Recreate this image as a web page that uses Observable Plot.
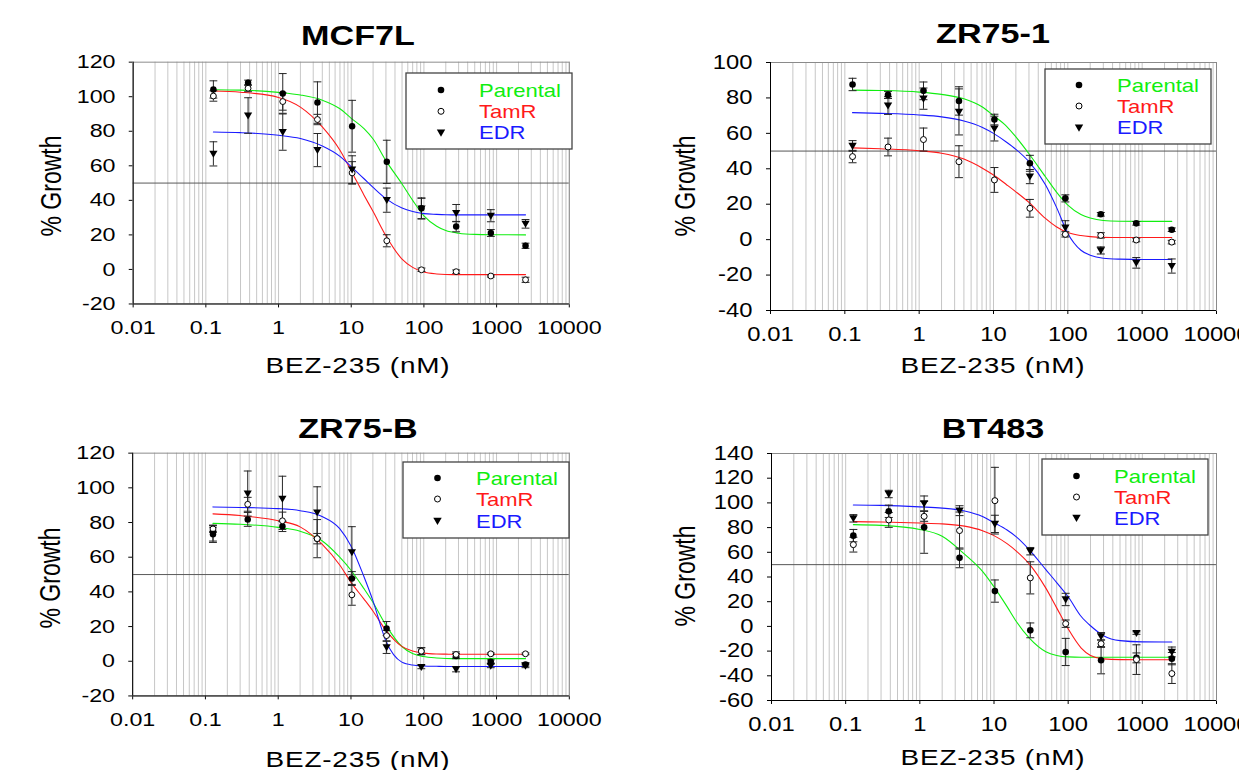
<!DOCTYPE html>
<html><head><meta charset="utf-8">
<script src="https://cdn.jsdelivr.net/npm/d3@7"></script>
<script src="https://cdn.jsdelivr.net/npm/@observablehq/plot@0.6"></script>
<style>
body{margin:0;background:#fff;}
#root{position:relative;width:1239px;height:770px;overflow:hidden;font-family:"Liberation Sans",Arial,sans-serif;}
.panel{position:absolute;overflow:hidden;}
#overlay{position:absolute;left:0;top:0;}
</style></head><body><div id="root"></div>
<script>
// ---------- data ----------
const concentrations = [0.127, 0.381, 1.143, 3.43, 10.29, 30.86, 92.59, 277.8, 833.3, 2500];
const curveConc = [0.127, 0.3, 1, 2, 4, 7, 10, 15, 20, 30, 50, 70, 100, 150, 200, 300, 500, 1000, 2500];
const xTickValues = [0.01, 0.1, 1, 10, 100, 1000, 10000];
const seriesNames = ["Parental", "TamR", "EDR"];
const seriesColors = ["#10ee10", "#ff1a1a", "#1a1aff"];

// MCF7L
const mcf7lParental    = [104.2, 108.1, 101.9, 96.6, 82.9, 62.3, 35.4, 24.8, 21.1, 13.7];
const mcf7lParentalErr = [5, 1.5, 11.5, 12, 15, 12.5, 6, 3, 2, 1.5];
const mcf7lTamR        = [100.4, 104.9, 97.2, 86.8, 55.9, 16.6, -0.2, -1.3, -3.8, -6];
const mcf7lTamRErr     = [3, 2, 5, 3, 6.5, 3.5, 1, 1, 0.6, 1.5];
const mcf7lEDR         = [66.9, 89.1, 79.5, 69.1, 57.8, 40.1, 35.2, 32.6, 31.1, 26.4];
const mcf7lEDRErr      = [7, 10.3, 10.5, 9.6, 8, 7, 6, 5, 3.5, 2.5];
const mcf7lFitParental = [104, 103.8, 102.5, 101, 98, 93, 87.5, 81.5, 75.5, 63, 49.5, 40, 31, 25, 22.5, 21, 20.3, 20.1, 20];
const mcf7lFitTamR     = [103.3, 102.6, 99.6, 94, 82.5, 69, 57, 43, 33.5, 19.5, 6, 1.2, -1.5, -2.6, -2.9, -3, -3, -3, -3];
const mcf7lFitEDR      = [79.6, 79.2, 77.7, 75.8, 71.5, 65.5, 59.5, 52.5, 47.5, 41, 35.5, 33.5, 32.3, 31.9, 31.7, 31.6, 31.6, 31.6, 31.6];
const mcf7lYTicks      = [-20, 0, 20, 40, 60, 80, 100, 120];

// ZR75-1
const zr751Parental    = [87.6, 81.7, 84, 78.3, 67.8, 43.1, 23.3, 14.3, 9.2, 5.6];
const zr751ParentalErr = [3.5, 2, 5, 8, 3, 4.5, 2, 1, 1, 1];
const zr751TamR        = [46.9, 52.3, 56.5, 44, 33.7, 17.7, 3, 2.4, -0.2, -1.4];
const zr751TamRErr     = [3.5, 5, 6.5, 9, 7, 5, 1.5, 1.5, 1, 1];
const zr751EDR         = [52.9, 75.7, 79.6, 72.1, 62.7, 35.6, 6.7, -6.1, -13.1, -14.9];
const zr751EDRErr      = [3, 5, 6, 13, 7, 4, 4, 2, 3, 4];
const zr751FitParental = [84.4, 84.2, 83.3, 82, 79.5, 75, 70, 64, 58, 48.5, 35.5, 27, 19.5, 14.2, 12.2, 10.8, 10.4, 10.3, 10.3];
const zr751FitTamR     = [51.8, 51.3, 50.2, 48.8, 45.5, 40.5, 36.5, 31, 27, 21, 12, 7.3, 4, 2.3, 1.7, 1.3, 1.2, 1.2, 1.2];
const zr751FitEDR      = [71.7, 71.3, 70.4, 69.3, 67, 63.5, 60, 55, 51, 44, 31, 18.5, 3.5, -6, -8.8, -10.5, -11, -11.2, -11.2];
const zr751YTicks      = [-40, -20, 0, 20, 40, 60, 80, 100];

// ZR75-B
const zr75bParental    = [73.3, 81.8, 77.8, 70.7, 47.7, 18.9, 5.8, 3, -0.2, -1.8];
const zr75bParentalErr = [4, 4, 3, 3, 4, 4, 2, 1.5, 1, 1];
const zr75bTamR        = [76.3, 90.5, 81, 70.7, 38.3, 14.8, 5.8, 3.9, 4.3, 4.3];
const zr75bTamRErr     = [2, 4, 5, 11, 6, 3, 2, 1.5, 0.5, 0.5];
const zr75bEDR         = [73.5, 96.7, 93.7, 85.8, 62.8, 8, -3.3, -4.6, -2.7, -2.7];
const zr75bEDRErr      = [5, 13, 13, 14.8, 14.8, 3.5, 1, 1.5, 1, 1];
const zr75bFitParental = [79.5, 79, 77.2, 75, 69.5, 60, 52.5, 42, 34, 21, 8.5, 4.5, 2.7, 1.9, 1.6, 1.5, 1.5, 1.5, 1.5];
const zr75bFitTamR     = [85, 84, 81, 77.5, 67.5, 55.5, 45.5, 36, 29, 18, 8.6, 5.9, 4.7, 4.2, 4.1, 4, 4, 4, 4];
const zr75bFitEDR      = [89, 88.7, 88, 86.8, 83.5, 76.5, 66.5, 49, 35, 12, -0.5, -2.2, -2.7, -2.9, -3, -3, -3, -3, -3];
const zr75bYTicks      = [-20, 0, 20, 40, 60, 80, 100, 120];

// BT483
const bt483Parental    = [73.5, 93.2, 80.2, 55.5, 28.6, -3.2, -20.7, -27.4, -25.5, -26.1];
const bt483ParentalErr = [5, 5, 21, 8, 9, 6, 11, 11, 4, 5];
const bt483TamR        = [66.2, 86.2, 89.1, 77.6, 101.8, 39.3, 2.2, -14, -26.9, -38.2];
const bt483TamRErr     = [6, 6, 4, 15, 27, 13, 3, 3, 12, 8];
const bt483EDR         = [87.5, 107.2, 99.6, 93.7, 83, 60.9, 21.8, -8, -5.4, -20.7];
const bt483EDRErr      = [3, 3, 6, 4, 7, 3, 5, 3, 1, 4];
const bt483FitParental = [82.4, 81.8, 78.5, 73, 58.5, 44.5, 32, 16, 4, -9.5, -20.5, -23.5, -24.7, -25, -25, -25, -25, -25, -25];
const bt483FitTamR     = [84.8, 84.5, 83.7, 83, 81.2, 77.5, 73.5, 67, 61, 50.5, 31, 15, -2, -17.5, -23.5, -26.3, -26.9, -27, -27];
const bt483FitEDR      = [98.3, 98, 96.8, 95.8, 93.5, 89, 84, 78, 72.5, 62, 46, 35.5, 24, 8, 0.5, -7.5, -11.5, -12.5, -12.6];
const bt483YTicks      = [-60, -40, -20, 0, 20, 40, 60, 80, 100, 120, 140];

const panelTitles = ["MCF7L", "ZR75-1", "ZR75-B", "BT483"];
const xAxisTitle = "BEZ-235 (nM)";
const yAxisTitle = "% Growth";

const panelData = [
  {values: [mcf7lParental, mcf7lTamR, mcf7lEDR], errs: [mcf7lParentalErr, mcf7lTamRErr, mcf7lEDRErr], fits: [mcf7lFitParental, mcf7lFitTamR, mcf7lFitEDR], yTicks: mcf7lYTicks},
  {values: [zr751Parental, zr751TamR, zr751EDR], errs: [zr751ParentalErr, zr751TamRErr, zr751EDRErr], fits: [zr751FitParental, zr751FitTamR, zr751FitEDR], yTicks: zr751YTicks},
  {values: [zr75bParental, zr75bTamR, zr75bEDR], errs: [zr75bParentalErr, zr75bTamRErr, zr75bEDRErr], fits: [zr75bFitParental, zr75bFitTamR, zr75bFitEDR], yTicks: zr75bYTicks},
  {values: [bt483Parental, bt483TamR, bt483EDR], errs: [bt483ParentalErr, bt483TamRErr, bt483EDRErr], fits: [bt483FitParental, bt483FitTamR, bt483FitEDR], yTicks: bt483YTicks}
];

// ---------- layout ----------
const layout = [
  {left: 0,   top: 0,   clipW: 607, w: 620, h: 390, ml: 135.5, mr: 39, mt: 63, mb: 80,
   title: [358, 45], xt: [358, 373], yt: [61, 186], leg: {x0: 406, y0: 73, x1: 572, y1: 149, mx: 441, tx: 479, rows: [90, 111.3, 132.7]}},
  {left: 620, top: 0,   clipW: 619, w: 619, h: 390, ml: 150, mr: 23, mt: 62, mb: 80,
   title: [993, 43], xt: [993, 373], yt: [695, 186], leg: {x0: 1045, y0: 69, x1: 1211, y1: 144, mx: 1079, tx: 1117, rows: [85, 106, 127.7]}},
  {left: 0,   top: 390, clipW: 607, w: 620, h: 380, ml: 135, mr: 39, mt: 64, mb: 68,
   title: [358, 437.5], xt: [358, 767], yt: [60, 578], leg: {x0: 403, y0: 462, x1: 569, y1: 538, mx: 437.5, tx: 476, rows: [478, 499, 521]}},
  {left: 620, top: 390, clipW: 619, w: 619, h: 380, ml: 151, mr: 23, mt: 63, mb: 70,
   title: [993, 437.5], xt: [993, 765], yt: [695, 576], leg: {x0: 1042, y0: 459, x1: 1208, y1: 535, mx: 1076.5, tx: 1114, rows: [476, 497, 518]}}
];

// ---------- symbols ----------
const triDown = {draw(ctx, size) { const r = Math.sqrt(size / Math.PI); ctx.moveTo(-r, -0.75 * r); ctx.lineTo(r, -0.75 * r); ctx.lineTo(0, 0.95 * r); ctx.closePath(); }};
const capSymbol = {draw(ctx, size) { const r = Math.sqrt(size / Math.PI); ctx.moveTo(-r, 0); ctx.lineTo(r, 0); }};

const gridTicks = d3.range(-2, 4).flatMap(k => d3.range(1, 10).map(m => +(m * Math.pow(10, k)).toPrecision(3))).concat([10000]);

function scaleTexts(svg, s) {
  svg.querySelectorAll("text").forEach(t => {
    const tr = t.getAttribute("transform");
    const xa = parseFloat(t.getAttribute("x"));
    if (xa && !isNaN(xa)) {
      t.setAttribute("transform", (tr ? tr + " " : "") + `translate(${xa},0) scale(${s},1) translate(${-xa},0)`);
    } else {
      t.setAttribute("transform", (tr ? tr + " " : "") + `scale(${s},1)`);
    }
  });
}

const root = document.getElementById("root");

panelData.forEach((d, pi) => {
  const L = layout[pi];
  const pts = [];
  d.values.forEach((vals, si) => vals.forEach((y, i) => pts.push({x: concentrations[i], y, lo: y - d.errs[si][i], hi: y + d.errs[si][i], name: seriesNames[si]})));
  const caps = pts.flatMap(p => [{x: p.x, y: p.lo}, {x: p.x, y: p.hi}]);
  const fits = [];
  d.fits.forEach((vals, si) => vals.forEach((y, i) => fits.push({x: curveConc[i], y, name: seriesNames[si]})));
  const ymin = d.yTicks[0], ymax = d.yTicks[d.yTicks.length - 1];

  const svg = Plot.plot({
    width: L.w, height: L.h,
    marginLeft: L.ml, marginRight: L.mr, marginTop: L.mt, marginBottom: L.mb,
    style: {fontFamily: '"Liberation Sans", Arial, sans-serif', fontSize: "19.5px", background: "transparent", color: "#000", overflow: "visible"},
    x: {type: "log", domain: [0.01, 10000], ticks: xTickValues, tickFormat: v => String(v), tickSize: 4, tickPadding: 13, label: null},
    y: {domain: [ymin, ymax], ticks: d.yTicks, tickFormat: v => String(v), tickSize: 4, tickPadding: 14, label: null},
    color: {domain: seriesNames, range: seriesColors},
    marks: [
      Plot.ruleX(gridTicks, {stroke: "#c6c6c6", strokeWidth: 1}),
      Plot.ruleY([50], {stroke: "#555", strokeWidth: 1}),
      Plot.frame({stroke: "#8a8a8a"}),
      Plot.ruleX([0.01], {stroke: "#000"}),
      Plot.ruleY([ymin], {stroke: "#000"}),
      Plot.line(fits, {x: "x", y: "y", z: "name", stroke: "name", curve: "monotone-x", strokeWidth: 1.1}),
      Plot.ruleX(pts, {x: "x", y1: "lo", y2: "hi", stroke: "#222", strokeWidth: 1}),
      Plot.dot(caps, {x: "x", y: "y", symbol: capSymbol, r: 4, stroke: "#222", fill: "none", strokeWidth: 1}),
      Plot.dot(pts.filter(p => p.name === "Parental"), {x: "x", y: "y", r: 3.3, fill: "#000", stroke: "none"}),
      Plot.dot(pts.filter(p => p.name === "TamR"), {x: "x", y: "y", r: 3, fill: "#fff", stroke: "#000", strokeWidth: 1}),
      Plot.dot(pts.filter(p => p.name === "EDR"), {x: "x", y: "y", r: 4.2, symbol: triDown, fill: "#000", stroke: "none"})
    ]
  });
  scaleTexts(svg, 1.22);
  const div = document.createElement("div");
  div.className = "panel";
  div.style.left = L.left + "px";
  div.style.top = L.top + "px";
  div.style.width = L.clipW + "px";
  div.style.height = L.h + "px";
  div.appendChild(svg);
  root.appendChild(div);
});

// ---------- overlay: titles, axis titles, legends ----------
const ov = d3.select(root).append("svg").attr("id", "overlay").attr("width", 1239).attr("height", 770)
  .style("font-family", '"Liberation Sans", Arial, sans-serif');

layout.forEach((L, pi) => {
  ov.append("text").text(panelTitles[pi])
    .attr("transform", `translate(${L.title[0]},${L.title[1]}) scale(1.22,1)`)
    .attr("text-anchor", "middle").attr("font-size", 28).attr("font-weight", "bold").attr("fill", "#000");
  ov.append("text").text(xAxisTitle)
    .attr("transform", `translate(${L.xt[0]},${L.xt[1]}) scale(1.3,1)`)
    .attr("text-anchor", "middle").attr("font-size", 21.5).attr("letter-spacing", "0.6px").attr("fill", "#000");
  ov.append("text").text(yAxisTitle)
    .attr("transform", `translate(${L.yt[0]},${L.yt[1]}) rotate(-90) scale(1,1.3)`)
    .attr("text-anchor", "middle").attr("font-size", 23).attr("fill", "#000");

  const g = L.leg;
  ov.append("rect").attr("x", g.x0).attr("y", g.y0).attr("width", g.x1 - g.x0).attr("height", g.y1 - g.y0)
    .attr("fill", "#fff").attr("stroke", "#444").attr("stroke-width", 1.3);
  seriesNames.forEach((name, si) => {
    const cy = g.rows[si];
    if (si === 0) ov.append("circle").attr("cx", g.mx).attr("cy", cy).attr("r", 3.3).attr("fill", "#000");
    if (si === 1) ov.append("circle").attr("cx", g.mx).attr("cy", cy).attr("r", 3).attr("fill", "#fff").attr("stroke", "#000");
    if (si === 2) ov.append("path").attr("d", d3.symbol().type(triDown).size(Math.PI * 4.2 * 4.2)()).attr("transform", `translate(${g.mx},${cy})`).attr("fill", "#000");
    ov.append("text").text(name)
      .attr("transform", `translate(${g.tx},${cy + 6.6}) scale(1.19,1)`)
      .attr("font-size", 18.5).attr("fill", seriesColors[si]);
  });
});
</script>
</body></html>
